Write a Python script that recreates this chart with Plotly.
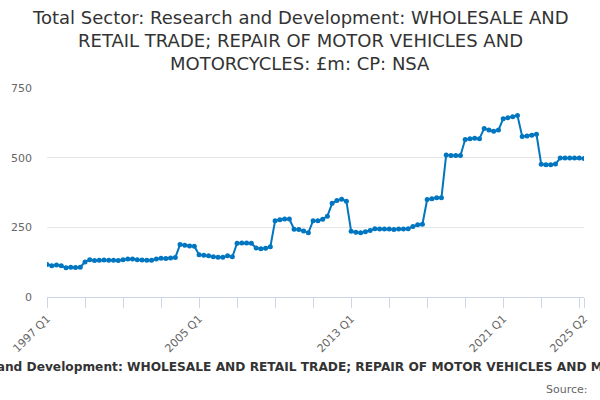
import plotly.graph_objects as go

title_lines = ["Total Sector: Research and Development: WHOLESALE AND",
               "RETAIL TRADE; REPAIR OF MOTOR VEHICLES AND",
               "MOTORCYCLES: £m: CP: NSA"]
axis_title = ("Total Sector: Research and Development: WHOLESALE AND RETAIL TRADE; "
              "REPAIR OF MOTOR VEHICLES AND MOTORCYCLES: £m: CP: NSA")

years = list(range(1997, 2026))
quarters = [f"{y} Q{q}" for y in years for q in range(1, 5)]
quarters = quarters[:quarters.index("2025 Q2") + 1]

values = [
    117, 112, 115, 112, 105, 107, 106, 107,
    126, 134, 131, 132, 133, 132, 132, 131,
    134, 136, 136, 134, 133, 132, 132, 136,
    139, 138, 140, 142, 188, 186, 183, 182,
    152, 150, 148, 144, 143, 143, 148, 144,
    193, 194, 194, 193, 176, 173, 175, 180,
    274, 277, 280, 280, 243, 242, 237, 231,
    274, 274, 279, 290, 336, 346, 351, 344,
    236, 232, 231, 234, 239, 245, 244, 244,
    244, 242, 244, 244, 245, 253, 259, 261,
    350, 353, 356, 356, 510, 508, 508, 508,
    565, 568, 570, 568, 605, 599, 595, 599,
    640, 643, 647, 651, 576, 578, 580, 584,
    476, 475, 475, 477, 499, 499, 499, 499,
    499, 497,
]

y_ticks = [0, 250, 500, 750]
labelled = ["1997 Q1", "2005 Q1", "2013 Q1", "2021 Q1", "2025 Q2"]

idx = list(range(len(quarters)))
tick_idx = list(range(0, len(quarters), 8))
if tick_idx[-1] != len(quarters) - 1:
    tick_idx.append(len(quarters) - 1)
tick_txt = [quarters[i] if quarters[i] in labelled else "" for i in tick_idx]

W, H = 600, 400
ML, MR, MT, MB = 47, 16, 88, 103
PW, PH = W - ML - MR, H - MT - MB


def px_x(x):
    return (x - ML) / PW


def px_y(y):
    return (H - MB - y) / PH


fig = go.Figure()
fig.add_trace(go.Scatter(
    x=idx, y=values, mode="lines+markers",
    line=dict(color="#0076c0", width=2),
    marker=dict(color="#0076c0", size=5),
    customdata=quarters,
    hovertemplate="%{customdata}: %{y}<extra></extra>",
))

annotations = []
for i, line in enumerate(title_lines):
    annotations.append(dict(
        text=line, xref="paper", yref="paper",
        x=px_x(300), y=px_y(17.5 + 23 * i), xanchor="center", yanchor="middle",
        showarrow=False, font=dict(family="DejaVu Sans", size=18, color="#333333")))
annotations.append(dict(
    text="<b>" + axis_title + "</b>", xref="paper", yref="paper",
    x=px_x(313), y=px_y(367), xanchor="center", yanchor="middle",
    showarrow=False, font=dict(size=12.2, color="#333333")))
annotations.append(dict(
    text="Source:", xref="paper", yref="paper",
    x=px_x(590), y=px_y(389), xanchor="right", yanchor="middle",
    showarrow=False, font=dict(size=11, color="#666666")))

fig.update_layout(
    width=W, height=H,
    margin=dict(l=ML, r=MR, t=MT, b=MB, autoexpand=False),
    paper_bgcolor="white", plot_bgcolor="white",
    font=dict(family="DejaVu Sans", color="#666666", size=11),
    showlegend=False,
    xaxis=dict(
        range=[0, len(quarters) - 1], automargin=False,
        tickmode="array", tickvals=tick_idx, ticktext=tick_txt,
        tickangle=-45, ticks="outside", ticklen=10, tickcolor="#ccd6eb",
        showline=True, linecolor="#ccd6eb", linewidth=1,
        showgrid=False, zeroline=False,
        tickfont=dict(size=11, color="#666666"),
    ),
    yaxis=dict(
        range=[0, 750], tickvals=y_ticks, automargin=False,
        showgrid=True, gridcolor="#e6e6e6", zeroline=False,
        showline=False, ticks="", ticklabelstandoff=14,
        tickfont=dict(size=11, color="#666666"),
    ),
    annotations=annotations,
)

fig.write_html("out.html", config={"displayModeBar": False},
               post_script="document.body.style.margin='0';")
